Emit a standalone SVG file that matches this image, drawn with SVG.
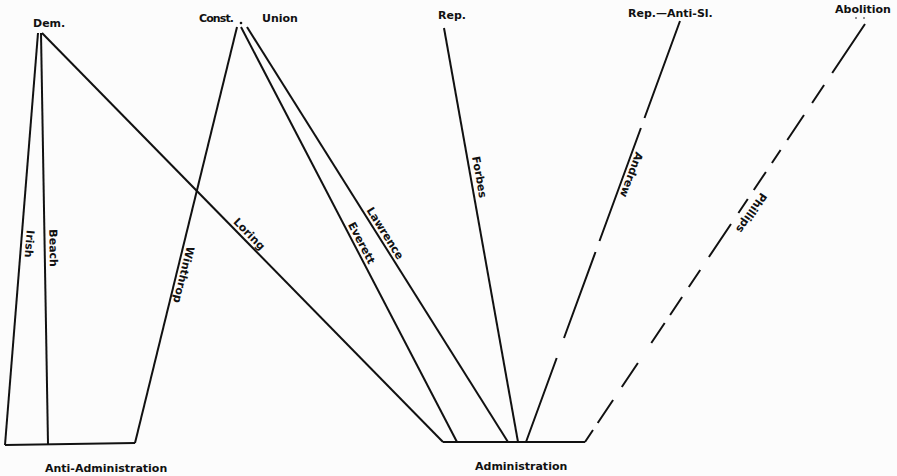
<svg xmlns="http://www.w3.org/2000/svg" width="897" height="476" viewBox="0 0 897 476">
<style>
.ln{fill:none;stroke:#111;stroke-width:2;stroke-linecap:butt}
.t{font-family:"DejaVu Sans",sans-serif;font-weight:bold;font-size:11px;fill:#111}
.dot{fill:#111}
</style>
<rect width="897" height="476" fill="#fcfcfc"/>
<g id="connectors">
<path class="ln" d="M38,33 L5,445"/>
<path class="ln" d="M41,33 L48,444"/>
<path class="ln" d="M237,27 L135,443"/>
<path class="ln" d="M42,33 L443,442"/>
<path class="ln" d="M241,27 L457,442"/>
<path class="ln" d="M247,27 L508,442"/>
<path class="ln" d="M444,28 L518,442"/>
<path class="ln" d="M680,21 L644.5,118 M640.9,128 L599.5,241 M595.5,252 L564,338 M556.7,358 L526,442"/>
<path class="ln" d="M865,24 L832.2,73 M824.1,85 L812.1,103 M804,115 L787.3,140 M780.6,150 L771.9,163 M765.9,172 L753.8,190 M747.8,199 L738.4,213 M731,224 L708.9,257 M700.2,270 L688.8,287 M682.1,297 L670.1,315 M664.7,323 L651.3,343 M637.9,363 L621.8,387 M613.1,400 L597.7,423 M593,430 L585,442"/>
<g id="connector-labels">
<text class="t" transform="translate(26.8,229.8) rotate(94.58)">Irish</text>
<text class="t" transform="translate(49.3,229.3) rotate(89.02)">Beach</text>
<text class="t" transform="translate(186.9,245.8) rotate(103.78)">Winthrop</text>
<text class="t" transform="translate(232.8,222.6) rotate(45.56)">Loring</text>
<text class="t" transform="translate(347.7,224.4) rotate(62.5)">Everett</text>
<text class="t" transform="translate(366.2,210.2) rotate(57.83)">Lawrence</text>
<text class="t" transform="translate(472.1,157.1) rotate(79.87)">Forbes</text>
<text class="t" transform="translate(636.1,151.2) rotate(110.09)">Andrew</text>
<text class="t" transform="translate(760.9,191.9) rotate(123.82)">Phillips</text>
</g>
</g>
<g id="node-dem"><text class="t" x="33" y="27">Dem.</text></g>
<g id="node-const"><text class="t" x="199" y="22" textLength="35">Const.</text><circle class="dot" cx="241" cy="23" r="1.3"/></g>
<g id="node-union"><text class="t" x="262" y="22">Union</text></g>
<g id="node-rep"><text class="t" x="438" y="19">Rep.</text></g>
<g id="node-rep-anti-sl"><text class="t" x="628" y="17">Rep.—Anti-Sl.</text></g>
<g id="node-abolition"><text class="t" x="835" y="13">Abolition</text><circle class="dot" cx="856" cy="18" r="0.8"/><circle class="dot" cx="864" cy="18" r="0.8"/></g>
<g id="node-anti-administration"><path class="ln" d="M5,445 L135,443"/><text class="t" x="45" y="472">Anti-Administration</text></g>
<g id="node-administration"><path class="ln" d="M443,442 L585,442"/><text class="t" x="475" y="470">Administration</text></g>
</svg>
